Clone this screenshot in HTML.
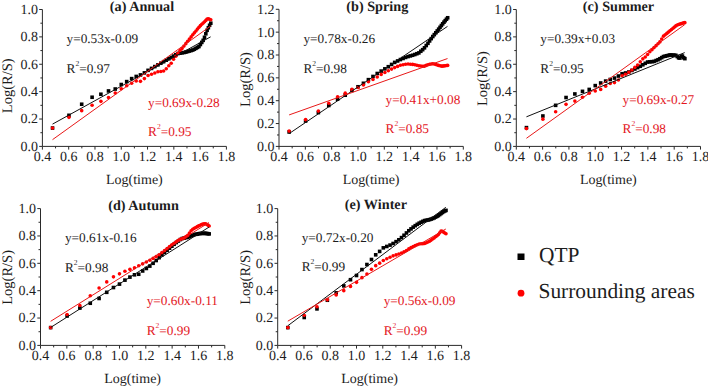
<!DOCTYPE html>
<html><head><meta charset="utf-8"><style>
html,body{margin:0;padding:0;background:#fff;}
svg{display:block;font-family:'Liberation Serif', serif;text-rendering:geometricPrecision;fill:#1c1c1c;}
</style></head><body>
<svg width="708" height="387" viewBox="0 0 708 387">
<rect width="708" height="387" fill="#fff"/>
<path d="M42.40 9.50V146.40H226.40" fill="none" stroke="#2a2a2a" stroke-width="1"/>
<line x1="39.20" y1="146.40" x2="42.40" y2="146.40" stroke="#2a2a2a" stroke-width="1"/>
<text x="37.90" y="150.80" text-anchor="end" font-size="14">0.0</text>
<line x1="40.40" y1="132.71" x2="42.40" y2="132.71" stroke="#2a2a2a" stroke-width="1"/>
<line x1="39.20" y1="119.02" x2="42.40" y2="119.02" stroke="#2a2a2a" stroke-width="1"/>
<text x="37.90" y="123.42" text-anchor="end" font-size="14">0.2</text>
<line x1="40.40" y1="105.33" x2="42.40" y2="105.33" stroke="#2a2a2a" stroke-width="1"/>
<line x1="39.20" y1="91.64" x2="42.40" y2="91.64" stroke="#2a2a2a" stroke-width="1"/>
<text x="37.90" y="96.04" text-anchor="end" font-size="14">0.4</text>
<line x1="40.40" y1="77.95" x2="42.40" y2="77.95" stroke="#2a2a2a" stroke-width="1"/>
<line x1="39.20" y1="64.26" x2="42.40" y2="64.26" stroke="#2a2a2a" stroke-width="1"/>
<text x="37.90" y="68.66" text-anchor="end" font-size="14">0.6</text>
<line x1="40.40" y1="50.57" x2="42.40" y2="50.57" stroke="#2a2a2a" stroke-width="1"/>
<line x1="39.20" y1="36.88" x2="42.40" y2="36.88" stroke="#2a2a2a" stroke-width="1"/>
<text x="37.90" y="41.28" text-anchor="end" font-size="14">0.8</text>
<line x1="40.40" y1="23.19" x2="42.40" y2="23.19" stroke="#2a2a2a" stroke-width="1"/>
<line x1="39.20" y1="9.50" x2="42.40" y2="9.50" stroke="#2a2a2a" stroke-width="1"/>
<text x="37.90" y="13.90" text-anchor="end" font-size="14">1.0</text>
<line x1="42.40" y1="146.40" x2="42.40" y2="149.60" stroke="#2a2a2a" stroke-width="1"/>
<text x="42.40" y="161.40" text-anchor="middle" font-size="14">0.4</text>
<line x1="55.54" y1="146.40" x2="55.54" y2="148.40" stroke="#2a2a2a" stroke-width="1"/>
<line x1="68.69" y1="146.40" x2="68.69" y2="149.60" stroke="#2a2a2a" stroke-width="1"/>
<text x="68.69" y="161.40" text-anchor="middle" font-size="14">0.6</text>
<line x1="81.83" y1="146.40" x2="81.83" y2="148.40" stroke="#2a2a2a" stroke-width="1"/>
<line x1="94.97" y1="146.40" x2="94.97" y2="149.60" stroke="#2a2a2a" stroke-width="1"/>
<text x="94.97" y="161.40" text-anchor="middle" font-size="14">0.8</text>
<line x1="108.11" y1="146.40" x2="108.11" y2="148.40" stroke="#2a2a2a" stroke-width="1"/>
<line x1="121.26" y1="146.40" x2="121.26" y2="149.60" stroke="#2a2a2a" stroke-width="1"/>
<text x="121.26" y="161.40" text-anchor="middle" font-size="14">1.0</text>
<line x1="134.40" y1="146.40" x2="134.40" y2="148.40" stroke="#2a2a2a" stroke-width="1"/>
<line x1="147.54" y1="146.40" x2="147.54" y2="149.60" stroke="#2a2a2a" stroke-width="1"/>
<text x="147.54" y="161.40" text-anchor="middle" font-size="14">1.2</text>
<line x1="160.69" y1="146.40" x2="160.69" y2="148.40" stroke="#2a2a2a" stroke-width="1"/>
<line x1="173.83" y1="146.40" x2="173.83" y2="149.60" stroke="#2a2a2a" stroke-width="1"/>
<text x="173.83" y="161.40" text-anchor="middle" font-size="14">1.4</text>
<line x1="186.97" y1="146.40" x2="186.97" y2="148.40" stroke="#2a2a2a" stroke-width="1"/>
<line x1="200.11" y1="146.40" x2="200.11" y2="149.60" stroke="#2a2a2a" stroke-width="1"/>
<text x="200.11" y="161.40" text-anchor="middle" font-size="14">1.6</text>
<line x1="213.26" y1="146.40" x2="213.26" y2="148.40" stroke="#2a2a2a" stroke-width="1"/>
<line x1="226.40" y1="146.40" x2="226.40" y2="149.60" stroke="#2a2a2a" stroke-width="1"/>
<text x="226.40" y="161.40" text-anchor="middle" font-size="14">1.8</text>
<text x="134.40" y="183.70" text-anchor="middle" font-size="14">Log(time)</text>
<text transform="translate(12.10,85.80) rotate(-90)" text-anchor="middle" font-size="14.5">Log(R/S)</text>
<text x="142.00" y="10.60" text-anchor="middle" font-size="14.2" font-weight="bold">(a) Annual</text>
<rect x="50.74" y="126.24" width="3.6" height="3.6" fill="#000"/>
<rect x="67.16" y="113.52" width="3.6" height="3.6" fill="#000"/>
<rect x="79.89" y="102.44" width="3.6" height="3.6" fill="#000"/>
<rect x="90.30" y="95.45" width="3.6" height="3.6" fill="#000"/>
<rect x="99.10" y="92.44" width="3.6" height="3.6" fill="#000"/>
<rect x="106.72" y="89.15" width="3.6" height="3.6" fill="#000"/>
<rect x="113.44" y="87.22" width="3.6" height="3.6" fill="#000"/>
<rect x="119.46" y="82.72" width="3.6" height="3.6" fill="#000"/>
<rect x="124.90" y="79.82" width="3.6" height="3.6" fill="#000"/>
<rect x="129.86" y="76.82" width="3.6" height="3.6" fill="#000"/>
<rect x="134.43" y="74.65" width="3.6" height="3.6" fill="#000"/>
<rect x="138.66" y="73.13" width="3.6" height="3.6" fill="#000"/>
<rect x="142.60" y="71.08" width="3.6" height="3.6" fill="#000"/>
<rect x="146.28" y="68.54" width="3.6" height="3.6" fill="#000"/>
<rect x="149.74" y="66.61" width="3.6" height="3.6" fill="#000"/>
<rect x="153.01" y="64.78" width="3.6" height="3.6" fill="#000"/>
<rect x="156.09" y="63.06" width="3.6" height="3.6" fill="#000"/>
<rect x="159.02" y="61.43" width="3.6" height="3.6" fill="#000"/>
<rect x="161.81" y="59.88" width="3.6" height="3.6" fill="#000"/>
<rect x="164.46" y="58.40" width="3.6" height="3.6" fill="#000"/>
<rect x="167.00" y="56.99" width="3.6" height="3.6" fill="#000"/>
<rect x="169.43" y="55.65" width="3.6" height="3.6" fill="#000"/>
<rect x="171.76" y="54.29" width="3.6" height="3.6" fill="#000"/>
<rect x="174.00" y="52.91" width="3.6" height="3.6" fill="#000"/>
<rect x="176.15" y="51.73" width="3.6" height="3.6" fill="#000"/>
<rect x="178.23" y="51.38" width="3.6" height="3.6" fill="#000"/>
<rect x="180.23" y="51.05" width="3.6" height="3.6" fill="#000"/>
<rect x="182.16" y="50.72" width="3.6" height="3.6" fill="#000"/>
<rect x="184.04" y="50.30" width="3.6" height="3.6" fill="#000"/>
<rect x="185.85" y="49.76" width="3.6" height="3.6" fill="#000"/>
<rect x="187.60" y="49.24" width="3.6" height="3.6" fill="#000"/>
<rect x="189.31" y="48.73" width="3.6" height="3.6" fill="#000"/>
<rect x="190.96" y="48.24" width="3.6" height="3.6" fill="#000"/>
<rect x="192.57" y="47.44" width="3.6" height="3.6" fill="#000"/>
<rect x="194.14" y="46.51" width="3.6" height="3.6" fill="#000"/>
<rect x="195.66" y="45.61" width="3.6" height="3.6" fill="#000"/>
<rect x="197.14" y="44.74" width="3.6" height="3.6" fill="#000"/>
<rect x="198.59" y="42.70" width="3.6" height="3.6" fill="#000"/>
<rect x="199.99" y="40.60" width="3.6" height="3.6" fill="#000"/>
<rect x="201.37" y="38.55" width="3.6" height="3.6" fill="#000"/>
<rect x="202.71" y="35.52" width="3.6" height="3.6" fill="#000"/>
<rect x="204.03" y="31.98" width="3.6" height="3.6" fill="#000"/>
<rect x="205.31" y="28.51" width="3.6" height="3.6" fill="#000"/>
<rect x="206.56" y="25.93" width="3.6" height="3.6" fill="#000"/>
<rect x="207.79" y="23.47" width="3.6" height="3.6" fill="#000"/>
<rect x="208.99" y="21.39" width="3.6" height="3.6" fill="#000"/>
<circle cx="52.54" cy="128.05" r="1.8" fill="#f00"/>
<circle cx="68.96" cy="117.37" r="1.8" fill="#f00"/>
<circle cx="81.69" cy="110.67" r="1.8" fill="#f00"/>
<circle cx="92.10" cy="105.32" r="1.8" fill="#f00"/>
<circle cx="100.90" cy="101.35" r="1.8" fill="#f00"/>
<circle cx="108.52" cy="97.52" r="1.8" fill="#f00"/>
<circle cx="115.24" cy="92.99" r="1.8" fill="#f00"/>
<circle cx="121.26" cy="88.77" r="1.8" fill="#f00"/>
<circle cx="126.70" cy="85.73" r="1.8" fill="#f00"/>
<circle cx="131.66" cy="83.28" r="1.8" fill="#f00"/>
<circle cx="136.23" cy="80.97" r="1.8" fill="#f00"/>
<circle cx="140.46" cy="81.36" r="1.8" fill="#f00"/>
<circle cx="144.40" cy="78.62" r="1.8" fill="#f00"/>
<circle cx="148.08" cy="75.43" r="1.8" fill="#f00"/>
<circle cx="151.54" cy="74.23" r="1.8" fill="#f00"/>
<circle cx="154.81" cy="72.97" r="1.8" fill="#f00"/>
<circle cx="157.89" cy="71.81" r="1.8" fill="#f00"/>
<circle cx="160.82" cy="71.44" r="1.8" fill="#f00"/>
<circle cx="163.61" cy="70.99" r="1.8" fill="#f00"/>
<circle cx="166.26" cy="68.77" r="1.8" fill="#f00"/>
<circle cx="168.80" cy="65.81" r="1.8" fill="#f00"/>
<circle cx="171.23" cy="63.25" r="1.8" fill="#f00"/>
<circle cx="173.56" cy="59.30" r="1.8" fill="#f00"/>
<circle cx="175.80" cy="56.23" r="1.8" fill="#f00"/>
<circle cx="177.95" cy="53.26" r="1.8" fill="#f00"/>
<circle cx="180.03" cy="50.57" r="1.8" fill="#f00"/>
<circle cx="182.03" cy="48.59" r="1.8" fill="#f00"/>
<circle cx="183.96" cy="46.12" r="1.8" fill="#f00"/>
<circle cx="185.84" cy="43.67" r="1.8" fill="#f00"/>
<circle cx="187.65" cy="41.31" r="1.8" fill="#f00"/>
<circle cx="189.40" cy="39.08" r="1.8" fill="#f00"/>
<circle cx="191.11" cy="36.91" r="1.8" fill="#f00"/>
<circle cx="192.76" cy="34.80" r="1.8" fill="#f00"/>
<circle cx="194.37" cy="32.83" r="1.8" fill="#f00"/>
<circle cx="195.94" cy="30.95" r="1.8" fill="#f00"/>
<circle cx="197.46" cy="29.12" r="1.8" fill="#f00"/>
<circle cx="198.94" cy="27.34" r="1.8" fill="#f00"/>
<circle cx="200.39" cy="25.67" r="1.8" fill="#f00"/>
<circle cx="201.79" cy="24.32" r="1.8" fill="#f00"/>
<circle cx="203.17" cy="23.01" r="1.8" fill="#f00"/>
<circle cx="204.51" cy="21.73" r="1.8" fill="#f00"/>
<circle cx="205.83" cy="20.39" r="1.8" fill="#f00"/>
<circle cx="207.11" cy="19.05" r="1.8" fill="#f00"/>
<circle cx="208.36" cy="18.69" r="1.8" fill="#f00"/>
<circle cx="209.59" cy="19.28" r="1.8" fill="#f00"/>
<circle cx="210.79" cy="19.77" r="1.8" fill="#f00"/>
<line x1="52.52" y1="124.11" x2="210.63" y2="36.83" stroke="#111" stroke-width="1"/>
<line x1="52.52" y1="139.67" x2="210.63" y2="26.04" stroke="#e81818" stroke-width="1"/>
<text x="66.50" y="42.80" font-size="13.3">y=0.53x-0.09</text>
<text x="66.50" y="72.80" font-size="13.3">R<tspan font-size="7.6" dy="-7">2</tspan><tspan dy="7">=0.97</tspan></text>
<text x="148.00" y="106.50" font-size="13.3" fill="#e3161e">y=0.69x-0.28</text>
<text x="148.00" y="136.00" font-size="13.3" fill="#e3161e">R<tspan font-size="7.6" dy="-7">2</tspan><tspan dy="7">=0.95</tspan></text>
<path d="M279.00 9.30V146.40H463.30" fill="none" stroke="#2a2a2a" stroke-width="1"/>
<line x1="275.80" y1="146.40" x2="279.00" y2="146.40" stroke="#2a2a2a" stroke-width="1"/>
<text x="274.50" y="150.80" text-anchor="end" font-size="14">0.0</text>
<line x1="277.00" y1="134.97" x2="279.00" y2="134.97" stroke="#2a2a2a" stroke-width="1"/>
<line x1="275.80" y1="123.55" x2="279.00" y2="123.55" stroke="#2a2a2a" stroke-width="1"/>
<text x="274.50" y="127.95" text-anchor="end" font-size="14">0.2</text>
<line x1="277.00" y1="112.12" x2="279.00" y2="112.12" stroke="#2a2a2a" stroke-width="1"/>
<line x1="275.80" y1="100.70" x2="279.00" y2="100.70" stroke="#2a2a2a" stroke-width="1"/>
<text x="274.50" y="105.10" text-anchor="end" font-size="14">0.4</text>
<line x1="277.00" y1="89.28" x2="279.00" y2="89.28" stroke="#2a2a2a" stroke-width="1"/>
<line x1="275.80" y1="77.85" x2="279.00" y2="77.85" stroke="#2a2a2a" stroke-width="1"/>
<text x="274.50" y="82.25" text-anchor="end" font-size="14">0.6</text>
<line x1="277.00" y1="66.43" x2="279.00" y2="66.43" stroke="#2a2a2a" stroke-width="1"/>
<line x1="275.80" y1="55.00" x2="279.00" y2="55.00" stroke="#2a2a2a" stroke-width="1"/>
<text x="274.50" y="59.40" text-anchor="end" font-size="14">0.8</text>
<line x1="277.00" y1="43.58" x2="279.00" y2="43.58" stroke="#2a2a2a" stroke-width="1"/>
<line x1="275.80" y1="32.15" x2="279.00" y2="32.15" stroke="#2a2a2a" stroke-width="1"/>
<text x="274.50" y="36.55" text-anchor="end" font-size="14">1.0</text>
<line x1="277.00" y1="20.72" x2="279.00" y2="20.72" stroke="#2a2a2a" stroke-width="1"/>
<line x1="275.80" y1="9.30" x2="279.00" y2="9.30" stroke="#2a2a2a" stroke-width="1"/>
<text x="274.50" y="13.70" text-anchor="end" font-size="14">1.2</text>
<line x1="279.00" y1="146.40" x2="279.00" y2="149.60" stroke="#2a2a2a" stroke-width="1"/>
<text x="279.00" y="161.40" text-anchor="middle" font-size="14">0.4</text>
<line x1="292.16" y1="146.40" x2="292.16" y2="148.40" stroke="#2a2a2a" stroke-width="1"/>
<line x1="305.33" y1="146.40" x2="305.33" y2="149.60" stroke="#2a2a2a" stroke-width="1"/>
<text x="305.33" y="161.40" text-anchor="middle" font-size="14">0.6</text>
<line x1="318.49" y1="146.40" x2="318.49" y2="148.40" stroke="#2a2a2a" stroke-width="1"/>
<line x1="331.66" y1="146.40" x2="331.66" y2="149.60" stroke="#2a2a2a" stroke-width="1"/>
<text x="331.66" y="161.40" text-anchor="middle" font-size="14">0.8</text>
<line x1="344.82" y1="146.40" x2="344.82" y2="148.40" stroke="#2a2a2a" stroke-width="1"/>
<line x1="357.99" y1="146.40" x2="357.99" y2="149.60" stroke="#2a2a2a" stroke-width="1"/>
<text x="357.99" y="161.40" text-anchor="middle" font-size="14">1.0</text>
<line x1="371.15" y1="146.40" x2="371.15" y2="148.40" stroke="#2a2a2a" stroke-width="1"/>
<line x1="384.31" y1="146.40" x2="384.31" y2="149.60" stroke="#2a2a2a" stroke-width="1"/>
<text x="384.31" y="161.40" text-anchor="middle" font-size="14">1.2</text>
<line x1="397.48" y1="146.40" x2="397.48" y2="148.40" stroke="#2a2a2a" stroke-width="1"/>
<line x1="410.64" y1="146.40" x2="410.64" y2="149.60" stroke="#2a2a2a" stroke-width="1"/>
<text x="410.64" y="161.40" text-anchor="middle" font-size="14">1.4</text>
<line x1="423.81" y1="146.40" x2="423.81" y2="148.40" stroke="#2a2a2a" stroke-width="1"/>
<line x1="436.97" y1="146.40" x2="436.97" y2="149.60" stroke="#2a2a2a" stroke-width="1"/>
<text x="436.97" y="161.40" text-anchor="middle" font-size="14">1.6</text>
<line x1="450.14" y1="146.40" x2="450.14" y2="148.40" stroke="#2a2a2a" stroke-width="1"/>
<line x1="463.30" y1="146.40" x2="463.30" y2="149.60" stroke="#2a2a2a" stroke-width="1"/>
<text x="463.30" y="161.40" text-anchor="middle" font-size="14">1.8</text>
<text x="371.15" y="183.70" text-anchor="middle" font-size="14">Log(time)</text>
<text transform="translate(250.00,79.50) rotate(-90)" text-anchor="middle" font-size="14.5">Log(R/S)</text>
<text x="377.30" y="10.90" text-anchor="middle" font-size="14.2" font-weight="bold">(b) Spring</text>
<rect x="287.35" y="130.19" width="3.6" height="3.6" fill="#000"/>
<rect x="303.80" y="119.23" width="3.6" height="3.6" fill="#000"/>
<rect x="316.56" y="110.78" width="3.6" height="3.6" fill="#000"/>
<rect x="326.98" y="103.68" width="3.6" height="3.6" fill="#000"/>
<rect x="335.79" y="97.41" width="3.6" height="3.6" fill="#000"/>
<rect x="343.43" y="93.41" width="3.6" height="3.6" fill="#000"/>
<rect x="350.16" y="88.60" width="3.6" height="3.6" fill="#000"/>
<rect x="356.19" y="84.96" width="3.6" height="3.6" fill="#000"/>
<rect x="361.63" y="81.50" width="3.6" height="3.6" fill="#000"/>
<rect x="366.61" y="77.86" width="3.6" height="3.6" fill="#000"/>
<rect x="371.19" y="74.68" width="3.6" height="3.6" fill="#000"/>
<rect x="375.42" y="71.70" width="3.6" height="3.6" fill="#000"/>
<rect x="379.37" y="69.30" width="3.6" height="3.6" fill="#000"/>
<rect x="383.06" y="67.06" width="3.6" height="3.6" fill="#000"/>
<rect x="386.52" y="64.91" width="3.6" height="3.6" fill="#000"/>
<rect x="389.79" y="62.65" width="3.6" height="3.6" fill="#000"/>
<rect x="392.88" y="60.61" width="3.6" height="3.6" fill="#000"/>
<rect x="395.81" y="59.16" width="3.6" height="3.6" fill="#000"/>
<rect x="398.60" y="57.77" width="3.6" height="3.6" fill="#000"/>
<rect x="401.26" y="56.67" width="3.6" height="3.6" fill="#000"/>
<rect x="403.80" y="55.63" width="3.6" height="3.6" fill="#000"/>
<rect x="406.24" y="54.76" width="3.6" height="3.6" fill="#000"/>
<rect x="408.57" y="54.10" width="3.6" height="3.6" fill="#000"/>
<rect x="410.81" y="53.46" width="3.6" height="3.6" fill="#000"/>
<rect x="412.97" y="52.72" width="3.6" height="3.6" fill="#000"/>
<rect x="415.05" y="51.91" width="3.6" height="3.6" fill="#000"/>
<rect x="417.06" y="51.10" width="3.6" height="3.6" fill="#000"/>
<rect x="419.00" y="49.46" width="3.6" height="3.6" fill="#000"/>
<rect x="420.87" y="47.88" width="3.6" height="3.6" fill="#000"/>
<rect x="422.69" y="46.03" width="3.6" height="3.6" fill="#000"/>
<rect x="424.44" y="43.74" width="3.6" height="3.6" fill="#000"/>
<rect x="426.15" y="41.50" width="3.6" height="3.6" fill="#000"/>
<rect x="427.81" y="39.13" width="3.6" height="3.6" fill="#000"/>
<rect x="429.42" y="36.83" width="3.6" height="3.6" fill="#000"/>
<rect x="430.99" y="34.75" width="3.6" height="3.6" fill="#000"/>
<rect x="432.51" y="32.83" width="3.6" height="3.6" fill="#000"/>
<rect x="434.00" y="30.96" width="3.6" height="3.6" fill="#000"/>
<rect x="435.44" y="29.14" width="3.6" height="3.6" fill="#000"/>
<rect x="436.85" y="27.36" width="3.6" height="3.6" fill="#000"/>
<rect x="438.23" y="25.53" width="3.6" height="3.6" fill="#000"/>
<rect x="439.58" y="23.75" width="3.6" height="3.6" fill="#000"/>
<rect x="440.89" y="22.01" width="3.6" height="3.6" fill="#000"/>
<rect x="442.18" y="20.36" width="3.6" height="3.6" fill="#000"/>
<rect x="443.43" y="18.86" width="3.6" height="3.6" fill="#000"/>
<rect x="444.66" y="17.40" width="3.6" height="3.6" fill="#000"/>
<rect x="445.87" y="15.96" width="3.6" height="3.6" fill="#000"/>
<circle cx="289.15" cy="131.08" r="1.8" fill="#f00"/>
<circle cx="305.60" cy="119.66" r="1.8" fill="#f00"/>
<circle cx="318.36" cy="111.10" r="1.8" fill="#f00"/>
<circle cx="328.78" cy="103.31" r="1.8" fill="#f00"/>
<circle cx="337.59" cy="96.81" r="1.8" fill="#f00"/>
<circle cx="345.23" cy="93.15" r="1.8" fill="#f00"/>
<circle cx="351.96" cy="89.38" r="1.8" fill="#f00"/>
<circle cx="357.99" cy="87.45" r="1.8" fill="#f00"/>
<circle cx="363.43" cy="84.90" r="1.8" fill="#f00"/>
<circle cx="368.41" cy="81.72" r="1.8" fill="#f00"/>
<circle cx="372.99" cy="79.45" r="1.8" fill="#f00"/>
<circle cx="377.22" cy="76.93" r="1.8" fill="#f00"/>
<circle cx="381.17" cy="74.42" r="1.8" fill="#f00"/>
<circle cx="384.86" cy="72.49" r="1.8" fill="#f00"/>
<circle cx="388.32" cy="70.70" r="1.8" fill="#f00"/>
<circle cx="391.59" cy="69.08" r="1.8" fill="#f00"/>
<circle cx="394.68" cy="67.59" r="1.8" fill="#f00"/>
<circle cx="397.61" cy="66.40" r="1.8" fill="#f00"/>
<circle cx="400.40" cy="65.26" r="1.8" fill="#f00"/>
<circle cx="403.06" cy="64.70" r="1.8" fill="#f00"/>
<circle cx="405.60" cy="64.20" r="1.8" fill="#f00"/>
<circle cx="408.04" cy="64.00" r="1.8" fill="#f00"/>
<circle cx="410.37" cy="64.20" r="1.8" fill="#f00"/>
<circle cx="412.61" cy="64.40" r="1.8" fill="#f00"/>
<circle cx="414.77" cy="64.78" r="1.8" fill="#f00"/>
<circle cx="416.85" cy="65.27" r="1.8" fill="#f00"/>
<circle cx="418.86" cy="65.75" r="1.8" fill="#f00"/>
<circle cx="420.80" cy="66.01" r="1.8" fill="#f00"/>
<circle cx="422.67" cy="66.27" r="1.8" fill="#f00"/>
<circle cx="424.49" cy="66.14" r="1.8" fill="#f00"/>
<circle cx="426.24" cy="65.40" r="1.8" fill="#f00"/>
<circle cx="427.95" cy="64.68" r="1.8" fill="#f00"/>
<circle cx="429.61" cy="64.30" r="1.8" fill="#f00"/>
<circle cx="431.22" cy="64.05" r="1.8" fill="#f00"/>
<circle cx="432.79" cy="63.80" r="1.8" fill="#f00"/>
<circle cx="434.31" cy="63.94" r="1.8" fill="#f00"/>
<circle cx="435.80" cy="64.45" r="1.8" fill="#f00"/>
<circle cx="437.24" cy="64.95" r="1.8" fill="#f00"/>
<circle cx="438.65" cy="65.42" r="1.8" fill="#f00"/>
<circle cx="440.03" cy="65.76" r="1.8" fill="#f00"/>
<circle cx="441.38" cy="66.08" r="1.8" fill="#f00"/>
<circle cx="442.69" cy="66.08" r="1.8" fill="#f00"/>
<circle cx="443.98" cy="65.91" r="1.8" fill="#f00"/>
<circle cx="445.23" cy="65.74" r="1.8" fill="#f00"/>
<circle cx="446.46" cy="65.57" r="1.8" fill="#f00"/>
<circle cx="447.67" cy="65.41" r="1.8" fill="#f00"/>
<line x1="289.14" y1="133.60" x2="447.50" y2="26.39" stroke="#111" stroke-width="1"/>
<line x1="289.14" y1="114.92" x2="447.50" y2="58.56" stroke="#e81818" stroke-width="1"/>
<text x="303.40" y="43.40" font-size="13.3">y=0.78x-0.26</text>
<text x="303.40" y="72.80" font-size="13.3">R<tspan font-size="7.6" dy="-7">2</tspan><tspan dy="7">=0.98</tspan></text>
<text x="385.50" y="103.70" font-size="13.3" fill="#e3161e">y=0.41x+0.08</text>
<text x="385.50" y="133.20" font-size="13.3" fill="#e3161e">R<tspan font-size="7.6" dy="-7">2</tspan><tspan dy="7">=0.85</tspan></text>
<path d="M516.30 9.50V146.40H700.50" fill="none" stroke="#2a2a2a" stroke-width="1"/>
<line x1="513.10" y1="146.40" x2="516.30" y2="146.40" stroke="#2a2a2a" stroke-width="1"/>
<text x="511.80" y="150.80" text-anchor="end" font-size="14">0.0</text>
<line x1="514.30" y1="132.71" x2="516.30" y2="132.71" stroke="#2a2a2a" stroke-width="1"/>
<line x1="513.10" y1="119.02" x2="516.30" y2="119.02" stroke="#2a2a2a" stroke-width="1"/>
<text x="511.80" y="123.42" text-anchor="end" font-size="14">0.2</text>
<line x1="514.30" y1="105.33" x2="516.30" y2="105.33" stroke="#2a2a2a" stroke-width="1"/>
<line x1="513.10" y1="91.64" x2="516.30" y2="91.64" stroke="#2a2a2a" stroke-width="1"/>
<text x="511.80" y="96.04" text-anchor="end" font-size="14">0.4</text>
<line x1="514.30" y1="77.95" x2="516.30" y2="77.95" stroke="#2a2a2a" stroke-width="1"/>
<line x1="513.10" y1="64.26" x2="516.30" y2="64.26" stroke="#2a2a2a" stroke-width="1"/>
<text x="511.80" y="68.66" text-anchor="end" font-size="14">0.6</text>
<line x1="514.30" y1="50.57" x2="516.30" y2="50.57" stroke="#2a2a2a" stroke-width="1"/>
<line x1="513.10" y1="36.88" x2="516.30" y2="36.88" stroke="#2a2a2a" stroke-width="1"/>
<text x="511.80" y="41.28" text-anchor="end" font-size="14">0.8</text>
<line x1="514.30" y1="23.19" x2="516.30" y2="23.19" stroke="#2a2a2a" stroke-width="1"/>
<line x1="513.10" y1="9.50" x2="516.30" y2="9.50" stroke="#2a2a2a" stroke-width="1"/>
<text x="511.80" y="13.90" text-anchor="end" font-size="14">1.0</text>
<line x1="516.30" y1="146.40" x2="516.30" y2="149.60" stroke="#2a2a2a" stroke-width="1"/>
<text x="516.30" y="161.40" text-anchor="middle" font-size="14">0.4</text>
<line x1="529.46" y1="146.40" x2="529.46" y2="148.40" stroke="#2a2a2a" stroke-width="1"/>
<line x1="542.61" y1="146.40" x2="542.61" y2="149.60" stroke="#2a2a2a" stroke-width="1"/>
<text x="542.61" y="161.40" text-anchor="middle" font-size="14">0.6</text>
<line x1="555.77" y1="146.40" x2="555.77" y2="148.40" stroke="#2a2a2a" stroke-width="1"/>
<line x1="568.93" y1="146.40" x2="568.93" y2="149.60" stroke="#2a2a2a" stroke-width="1"/>
<text x="568.93" y="161.40" text-anchor="middle" font-size="14">0.8</text>
<line x1="582.09" y1="146.40" x2="582.09" y2="148.40" stroke="#2a2a2a" stroke-width="1"/>
<line x1="595.24" y1="146.40" x2="595.24" y2="149.60" stroke="#2a2a2a" stroke-width="1"/>
<text x="595.24" y="161.40" text-anchor="middle" font-size="14">1.0</text>
<line x1="608.40" y1="146.40" x2="608.40" y2="148.40" stroke="#2a2a2a" stroke-width="1"/>
<line x1="621.56" y1="146.40" x2="621.56" y2="149.60" stroke="#2a2a2a" stroke-width="1"/>
<text x="621.56" y="161.40" text-anchor="middle" font-size="14">1.2</text>
<line x1="634.71" y1="146.40" x2="634.71" y2="148.40" stroke="#2a2a2a" stroke-width="1"/>
<line x1="647.87" y1="146.40" x2="647.87" y2="149.60" stroke="#2a2a2a" stroke-width="1"/>
<text x="647.87" y="161.40" text-anchor="middle" font-size="14">1.4</text>
<line x1="661.03" y1="146.40" x2="661.03" y2="148.40" stroke="#2a2a2a" stroke-width="1"/>
<line x1="674.19" y1="146.40" x2="674.19" y2="149.60" stroke="#2a2a2a" stroke-width="1"/>
<text x="674.19" y="161.40" text-anchor="middle" font-size="14">1.6</text>
<line x1="687.34" y1="146.40" x2="687.34" y2="148.40" stroke="#2a2a2a" stroke-width="1"/>
<line x1="700.50" y1="146.40" x2="700.50" y2="149.60" stroke="#2a2a2a" stroke-width="1"/>
<text x="700.50" y="161.40" text-anchor="middle" font-size="14">1.8</text>
<text x="608.40" y="183.70" text-anchor="middle" font-size="14">Log(time)</text>
<text transform="translate(487.40,78.60) rotate(-90)" text-anchor="middle" font-size="14.5">Log(R/S)</text>
<text x="618.50" y="10.80" text-anchor="middle" font-size="14.2" font-weight="bold">(c) Summer</text>
<rect x="524.65" y="125.83" width="3.6" height="3.6" fill="#000"/>
<rect x="541.09" y="114.20" width="3.6" height="3.6" fill="#000"/>
<rect x="553.84" y="103.53" width="3.6" height="3.6" fill="#000"/>
<rect x="564.25" y="95.72" width="3.6" height="3.6" fill="#000"/>
<rect x="573.06" y="92.16" width="3.6" height="3.6" fill="#000"/>
<rect x="580.69" y="89.56" width="3.6" height="3.6" fill="#000"/>
<rect x="587.42" y="87.63" width="3.6" height="3.6" fill="#000"/>
<rect x="593.44" y="83.82" width="3.6" height="3.6" fill="#000"/>
<rect x="598.89" y="81.20" width="3.6" height="3.6" fill="#000"/>
<rect x="603.86" y="79.29" width="3.6" height="3.6" fill="#000"/>
<rect x="608.43" y="77.66" width="3.6" height="3.6" fill="#000"/>
<rect x="612.67" y="76.28" width="3.6" height="3.6" fill="#000"/>
<rect x="616.61" y="74.23" width="3.6" height="3.6" fill="#000"/>
<rect x="620.30" y="71.93" width="3.6" height="3.6" fill="#000"/>
<rect x="623.76" y="71.17" width="3.6" height="3.6" fill="#000"/>
<rect x="627.03" y="70.20" width="3.6" height="3.6" fill="#000"/>
<rect x="630.12" y="68.65" width="3.6" height="3.6" fill="#000"/>
<rect x="633.05" y="67.19" width="3.6" height="3.6" fill="#000"/>
<rect x="635.84" y="65.80" width="3.6" height="3.6" fill="#000"/>
<rect x="638.50" y="64.47" width="3.6" height="3.6" fill="#000"/>
<rect x="641.04" y="62.99" width="3.6" height="3.6" fill="#000"/>
<rect x="643.47" y="61.52" width="3.6" height="3.6" fill="#000"/>
<rect x="645.80" y="60.25" width="3.6" height="3.6" fill="#000"/>
<rect x="648.04" y="60.06" width="3.6" height="3.6" fill="#000"/>
<rect x="650.20" y="59.87" width="3.6" height="3.6" fill="#000"/>
<rect x="652.28" y="59.60" width="3.6" height="3.6" fill="#000"/>
<rect x="654.28" y="58.74" width="3.6" height="3.6" fill="#000"/>
<rect x="656.22" y="57.92" width="3.6" height="3.6" fill="#000"/>
<rect x="658.09" y="56.94" width="3.6" height="3.6" fill="#000"/>
<rect x="659.91" y="55.83" width="3.6" height="3.6" fill="#000"/>
<rect x="661.66" y="54.78" width="3.6" height="3.6" fill="#000"/>
<rect x="663.37" y="54.36" width="3.6" height="3.6" fill="#000"/>
<rect x="665.03" y="53.95" width="3.6" height="3.6" fill="#000"/>
<rect x="666.64" y="53.56" width="3.6" height="3.6" fill="#000"/>
<rect x="668.20" y="53.18" width="3.6" height="3.6" fill="#000"/>
<rect x="669.73" y="53.25" width="3.6" height="3.6" fill="#000"/>
<rect x="671.21" y="53.35" width="3.6" height="3.6" fill="#000"/>
<rect x="672.66" y="53.45" width="3.6" height="3.6" fill="#000"/>
<rect x="674.07" y="53.55" width="3.6" height="3.6" fill="#000"/>
<rect x="675.44" y="54.73" width="3.6" height="3.6" fill="#000"/>
<rect x="676.79" y="56.02" width="3.6" height="3.6" fill="#000"/>
<rect x="678.10" y="56.25" width="3.6" height="3.6" fill="#000"/>
<rect x="679.39" y="54.56" width="3.6" height="3.6" fill="#000"/>
<rect x="680.64" y="54.25" width="3.6" height="3.6" fill="#000"/>
<rect x="681.87" y="55.95" width="3.6" height="3.6" fill="#000"/>
<rect x="683.07" y="56.85" width="3.6" height="3.6" fill="#000"/>
<circle cx="526.45" cy="128.59" r="1.8" fill="#f00"/>
<circle cx="542.89" cy="119.15" r="1.8" fill="#f00"/>
<circle cx="555.64" cy="111.77" r="1.8" fill="#f00"/>
<circle cx="566.05" cy="104.36" r="1.8" fill="#f00"/>
<circle cx="574.86" cy="101.08" r="1.8" fill="#f00"/>
<circle cx="582.49" cy="97.25" r="1.8" fill="#f00"/>
<circle cx="589.22" cy="93.27" r="1.8" fill="#f00"/>
<circle cx="595.24" cy="90.96" r="1.8" fill="#f00"/>
<circle cx="600.69" cy="89.42" r="1.8" fill="#f00"/>
<circle cx="605.66" cy="86.15" r="1.8" fill="#f00"/>
<circle cx="610.23" cy="83.43" r="1.8" fill="#f00"/>
<circle cx="614.47" cy="82.59" r="1.8" fill="#f00"/>
<circle cx="618.41" cy="79.99" r="1.8" fill="#f00"/>
<circle cx="622.10" cy="75.79" r="1.8" fill="#f00"/>
<circle cx="625.56" cy="74.20" r="1.8" fill="#f00"/>
<circle cx="628.83" cy="72.26" r="1.8" fill="#f00"/>
<circle cx="631.92" cy="70.06" r="1.8" fill="#f00"/>
<circle cx="634.85" cy="67.39" r="1.8" fill="#f00"/>
<circle cx="637.64" cy="65.06" r="1.8" fill="#f00"/>
<circle cx="640.30" cy="61.84" r="1.8" fill="#f00"/>
<circle cx="642.84" cy="58.87" r="1.8" fill="#f00"/>
<circle cx="645.27" cy="56.93" r="1.8" fill="#f00"/>
<circle cx="647.60" cy="54.46" r="1.8" fill="#f00"/>
<circle cx="649.84" cy="51.81" r="1.8" fill="#f00"/>
<circle cx="652.00" cy="49.67" r="1.8" fill="#f00"/>
<circle cx="654.08" cy="47.62" r="1.8" fill="#f00"/>
<circle cx="656.08" cy="45.64" r="1.8" fill="#f00"/>
<circle cx="658.02" cy="43.73" r="1.8" fill="#f00"/>
<circle cx="659.89" cy="41.88" r="1.8" fill="#f00"/>
<circle cx="661.71" cy="39.05" r="1.8" fill="#f00"/>
<circle cx="663.46" cy="36.14" r="1.8" fill="#f00"/>
<circle cx="665.17" cy="34.75" r="1.8" fill="#f00"/>
<circle cx="666.83" cy="33.40" r="1.8" fill="#f00"/>
<circle cx="668.44" cy="32.08" r="1.8" fill="#f00"/>
<circle cx="670.00" cy="30.81" r="1.8" fill="#f00"/>
<circle cx="671.53" cy="29.53" r="1.8" fill="#f00"/>
<circle cx="673.01" cy="28.29" r="1.8" fill="#f00"/>
<circle cx="674.46" cy="27.08" r="1.8" fill="#f00"/>
<circle cx="675.87" cy="25.90" r="1.8" fill="#f00"/>
<circle cx="677.24" cy="24.97" r="1.8" fill="#f00"/>
<circle cx="678.59" cy="24.52" r="1.8" fill="#f00"/>
<circle cx="679.90" cy="24.09" r="1.8" fill="#f00"/>
<circle cx="681.19" cy="23.67" r="1.8" fill="#f00"/>
<circle cx="682.44" cy="23.26" r="1.8" fill="#f00"/>
<circle cx="683.67" cy="22.85" r="1.8" fill="#f00"/>
<circle cx="684.87" cy="22.64" r="1.8" fill="#f00"/>
<line x1="526.43" y1="116.83" x2="684.71" y2="52.60" stroke="#111" stroke-width="1"/>
<line x1="526.43" y1="138.31" x2="684.71" y2="24.67" stroke="#e81818" stroke-width="1"/>
<text x="540.30" y="43.40" font-size="13.3">y=0.39x+0.03</text>
<text x="540.30" y="72.80" font-size="13.3">R<tspan font-size="7.6" dy="-7">2</tspan><tspan dy="7">=0.95</tspan></text>
<text x="622.50" y="103.70" font-size="13.3" fill="#e3161e">y=0.69x-0.27</text>
<text x="622.50" y="133.20" font-size="13.3" fill="#e3161e">R<tspan font-size="7.6" dy="-7">2</tspan><tspan dy="7">=0.98</tspan></text>
<path d="M40.50 208.60V345.40H224.80" fill="none" stroke="#2a2a2a" stroke-width="1"/>
<line x1="37.30" y1="345.40" x2="40.50" y2="345.40" stroke="#2a2a2a" stroke-width="1"/>
<text x="36.00" y="349.80" text-anchor="end" font-size="14">0.0</text>
<line x1="38.50" y1="331.72" x2="40.50" y2="331.72" stroke="#2a2a2a" stroke-width="1"/>
<line x1="37.30" y1="318.04" x2="40.50" y2="318.04" stroke="#2a2a2a" stroke-width="1"/>
<text x="36.00" y="322.44" text-anchor="end" font-size="14">0.2</text>
<line x1="38.50" y1="304.36" x2="40.50" y2="304.36" stroke="#2a2a2a" stroke-width="1"/>
<line x1="37.30" y1="290.68" x2="40.50" y2="290.68" stroke="#2a2a2a" stroke-width="1"/>
<text x="36.00" y="295.08" text-anchor="end" font-size="14">0.4</text>
<line x1="38.50" y1="277.00" x2="40.50" y2="277.00" stroke="#2a2a2a" stroke-width="1"/>
<line x1="37.30" y1="263.32" x2="40.50" y2="263.32" stroke="#2a2a2a" stroke-width="1"/>
<text x="36.00" y="267.72" text-anchor="end" font-size="14">0.6</text>
<line x1="38.50" y1="249.64" x2="40.50" y2="249.64" stroke="#2a2a2a" stroke-width="1"/>
<line x1="37.30" y1="235.96" x2="40.50" y2="235.96" stroke="#2a2a2a" stroke-width="1"/>
<text x="36.00" y="240.36" text-anchor="end" font-size="14">0.8</text>
<line x1="38.50" y1="222.28" x2="40.50" y2="222.28" stroke="#2a2a2a" stroke-width="1"/>
<line x1="37.30" y1="208.60" x2="40.50" y2="208.60" stroke="#2a2a2a" stroke-width="1"/>
<text x="36.00" y="213.00" text-anchor="end" font-size="14">1.0</text>
<line x1="40.50" y1="345.40" x2="40.50" y2="348.60" stroke="#2a2a2a" stroke-width="1"/>
<text x="40.50" y="360.40" text-anchor="middle" font-size="14">0.4</text>
<line x1="53.66" y1="345.40" x2="53.66" y2="347.40" stroke="#2a2a2a" stroke-width="1"/>
<line x1="66.83" y1="345.40" x2="66.83" y2="348.60" stroke="#2a2a2a" stroke-width="1"/>
<text x="66.83" y="360.40" text-anchor="middle" font-size="14">0.6</text>
<line x1="79.99" y1="345.40" x2="79.99" y2="347.40" stroke="#2a2a2a" stroke-width="1"/>
<line x1="93.16" y1="345.40" x2="93.16" y2="348.60" stroke="#2a2a2a" stroke-width="1"/>
<text x="93.16" y="360.40" text-anchor="middle" font-size="14">0.8</text>
<line x1="106.32" y1="345.40" x2="106.32" y2="347.40" stroke="#2a2a2a" stroke-width="1"/>
<line x1="119.49" y1="345.40" x2="119.49" y2="348.60" stroke="#2a2a2a" stroke-width="1"/>
<text x="119.49" y="360.40" text-anchor="middle" font-size="14">1.0</text>
<line x1="132.65" y1="345.40" x2="132.65" y2="347.40" stroke="#2a2a2a" stroke-width="1"/>
<line x1="145.81" y1="345.40" x2="145.81" y2="348.60" stroke="#2a2a2a" stroke-width="1"/>
<text x="145.81" y="360.40" text-anchor="middle" font-size="14">1.2</text>
<line x1="158.98" y1="345.40" x2="158.98" y2="347.40" stroke="#2a2a2a" stroke-width="1"/>
<line x1="172.14" y1="345.40" x2="172.14" y2="348.60" stroke="#2a2a2a" stroke-width="1"/>
<text x="172.14" y="360.40" text-anchor="middle" font-size="14">1.4</text>
<line x1="185.31" y1="345.40" x2="185.31" y2="347.40" stroke="#2a2a2a" stroke-width="1"/>
<line x1="198.47" y1="345.40" x2="198.47" y2="348.60" stroke="#2a2a2a" stroke-width="1"/>
<text x="198.47" y="360.40" text-anchor="middle" font-size="14">1.6</text>
<line x1="211.64" y1="345.40" x2="211.64" y2="347.40" stroke="#2a2a2a" stroke-width="1"/>
<line x1="224.80" y1="345.40" x2="224.80" y2="348.60" stroke="#2a2a2a" stroke-width="1"/>
<text x="224.80" y="360.40" text-anchor="middle" font-size="14">1.8</text>
<text x="132.65" y="382.70" text-anchor="middle" font-size="14">Log(time)</text>
<text transform="translate(11.60,277.40) rotate(-90)" text-anchor="middle" font-size="14.5">Log(R/S)</text>
<text x="143.50" y="209.80" text-anchor="middle" font-size="14.2" font-weight="bold">(d) Autumn</text>
<rect x="48.85" y="325.80" width="3.6" height="3.6" fill="#000"/>
<rect x="65.30" y="314.18" width="3.6" height="3.6" fill="#000"/>
<rect x="78.06" y="306.26" width="3.6" height="3.6" fill="#000"/>
<rect x="88.48" y="301.45" width="3.6" height="3.6" fill="#000"/>
<rect x="97.29" y="296.67" width="3.6" height="3.6" fill="#000"/>
<rect x="104.93" y="290.51" width="3.6" height="3.6" fill="#000"/>
<rect x="111.66" y="285.72" width="3.6" height="3.6" fill="#000"/>
<rect x="117.69" y="282.31" width="3.6" height="3.6" fill="#000"/>
<rect x="123.13" y="278.32" width="3.6" height="3.6" fill="#000"/>
<rect x="128.11" y="275.32" width="3.6" height="3.6" fill="#000"/>
<rect x="132.69" y="273.01" width="3.6" height="3.6" fill="#000"/>
<rect x="136.92" y="272.45" width="3.6" height="3.6" fill="#000"/>
<rect x="140.87" y="269.17" width="3.6" height="3.6" fill="#000"/>
<rect x="144.56" y="266.66" width="3.6" height="3.6" fill="#000"/>
<rect x="148.02" y="264.30" width="3.6" height="3.6" fill="#000"/>
<rect x="151.29" y="261.49" width="3.6" height="3.6" fill="#000"/>
<rect x="154.38" y="258.73" width="3.6" height="3.6" fill="#000"/>
<rect x="157.31" y="255.87" width="3.6" height="3.6" fill="#000"/>
<rect x="160.10" y="253.09" width="3.6" height="3.6" fill="#000"/>
<rect x="162.76" y="250.61" width="3.6" height="3.6" fill="#000"/>
<rect x="165.30" y="248.45" width="3.6" height="3.6" fill="#000"/>
<rect x="167.74" y="246.37" width="3.6" height="3.6" fill="#000"/>
<rect x="170.07" y="244.38" width="3.6" height="3.6" fill="#000"/>
<rect x="172.31" y="242.47" width="3.6" height="3.6" fill="#000"/>
<rect x="174.47" y="240.77" width="3.6" height="3.6" fill="#000"/>
<rect x="176.55" y="239.23" width="3.6" height="3.6" fill="#000"/>
<rect x="178.56" y="237.74" width="3.6" height="3.6" fill="#000"/>
<rect x="180.50" y="236.71" width="3.6" height="3.6" fill="#000"/>
<rect x="182.37" y="236.27" width="3.6" height="3.6" fill="#000"/>
<rect x="184.19" y="235.85" width="3.6" height="3.6" fill="#000"/>
<rect x="185.94" y="235.44" width="3.6" height="3.6" fill="#000"/>
<rect x="187.65" y="234.78" width="3.6" height="3.6" fill="#000"/>
<rect x="189.31" y="234.11" width="3.6" height="3.6" fill="#000"/>
<rect x="190.92" y="233.47" width="3.6" height="3.6" fill="#000"/>
<rect x="192.49" y="232.83" width="3.6" height="3.6" fill="#000"/>
<rect x="194.01" y="232.52" width="3.6" height="3.6" fill="#000"/>
<rect x="195.50" y="232.24" width="3.6" height="3.6" fill="#000"/>
<rect x="196.94" y="231.96" width="3.6" height="3.6" fill="#000"/>
<rect x="198.35" y="231.69" width="3.6" height="3.6" fill="#000"/>
<rect x="199.73" y="231.56" width="3.6" height="3.6" fill="#000"/>
<rect x="201.08" y="231.56" width="3.6" height="3.6" fill="#000"/>
<rect x="202.39" y="231.56" width="3.6" height="3.6" fill="#000"/>
<rect x="203.68" y="231.56" width="3.6" height="3.6" fill="#000"/>
<rect x="204.93" y="231.69" width="3.6" height="3.6" fill="#000"/>
<rect x="206.16" y="231.89" width="3.6" height="3.6" fill="#000"/>
<rect x="207.37" y="232.09" width="3.6" height="3.6" fill="#000"/>
<circle cx="50.65" cy="327.60" r="1.8" fill="#f00"/>
<circle cx="67.10" cy="314.48" r="1.8" fill="#f00"/>
<circle cx="79.86" cy="305.46" r="1.8" fill="#f00"/>
<circle cx="90.28" cy="295.72" r="1.8" fill="#f00"/>
<circle cx="99.09" cy="288.07" r="1.8" fill="#f00"/>
<circle cx="106.73" cy="281.92" r="1.8" fill="#f00"/>
<circle cx="113.46" cy="276.85" r="1.8" fill="#f00"/>
<circle cx="119.49" cy="273.85" r="1.8" fill="#f00"/>
<circle cx="124.93" cy="271.23" r="1.8" fill="#f00"/>
<circle cx="129.91" cy="269.33" r="1.8" fill="#f00"/>
<circle cx="134.49" cy="267.70" r="1.8" fill="#f00"/>
<circle cx="138.72" cy="265.77" r="1.8" fill="#f00"/>
<circle cx="142.67" cy="263.86" r="1.8" fill="#f00"/>
<circle cx="146.36" cy="262.01" r="1.8" fill="#f00"/>
<circle cx="149.82" cy="260.27" r="1.8" fill="#f00"/>
<circle cx="153.09" cy="258.41" r="1.8" fill="#f00"/>
<circle cx="156.18" cy="256.61" r="1.8" fill="#f00"/>
<circle cx="159.11" cy="254.72" r="1.8" fill="#f00"/>
<circle cx="161.90" cy="252.61" r="1.8" fill="#f00"/>
<circle cx="164.56" cy="250.59" r="1.8" fill="#f00"/>
<circle cx="167.10" cy="248.61" r="1.8" fill="#f00"/>
<circle cx="169.54" cy="246.65" r="1.8" fill="#f00"/>
<circle cx="171.87" cy="244.77" r="1.8" fill="#f00"/>
<circle cx="174.11" cy="243.18" r="1.8" fill="#f00"/>
<circle cx="176.27" cy="241.70" r="1.8" fill="#f00"/>
<circle cx="178.35" cy="240.27" r="1.8" fill="#f00"/>
<circle cx="180.36" cy="239.37" r="1.8" fill="#f00"/>
<circle cx="182.30" cy="238.64" r="1.8" fill="#f00"/>
<circle cx="184.17" cy="237.89" r="1.8" fill="#f00"/>
<circle cx="185.99" cy="236.63" r="1.8" fill="#f00"/>
<circle cx="187.74" cy="235.41" r="1.8" fill="#f00"/>
<circle cx="189.45" cy="233.11" r="1.8" fill="#f00"/>
<circle cx="191.11" cy="230.73" r="1.8" fill="#f00"/>
<circle cx="192.72" cy="229.25" r="1.8" fill="#f00"/>
<circle cx="194.29" cy="228.36" r="1.8" fill="#f00"/>
<circle cx="195.81" cy="227.49" r="1.8" fill="#f00"/>
<circle cx="197.30" cy="226.66" r="1.8" fill="#f00"/>
<circle cx="198.74" cy="225.92" r="1.8" fill="#f00"/>
<circle cx="200.15" cy="225.21" r="1.8" fill="#f00"/>
<circle cx="201.53" cy="224.51" r="1.8" fill="#f00"/>
<circle cx="202.88" cy="224.09" r="1.8" fill="#f00"/>
<circle cx="204.19" cy="223.90" r="1.8" fill="#f00"/>
<circle cx="205.48" cy="223.72" r="1.8" fill="#f00"/>
<circle cx="206.73" cy="224.22" r="1.8" fill="#f00"/>
<circle cx="207.96" cy="225.14" r="1.8" fill="#f00"/>
<circle cx="209.17" cy="226.04" r="1.8" fill="#f00"/>
<line x1="50.64" y1="327.48" x2="209.00" y2="227.10" stroke="#111" stroke-width="1"/>
<line x1="50.64" y1="321.30" x2="209.00" y2="222.55" stroke="#e81818" stroke-width="1"/>
<text x="64.90" y="242.10" font-size="13.3">y=0.61x-0.16</text>
<text x="64.90" y="271.60" font-size="13.3">R<tspan font-size="7.6" dy="-7">2</tspan><tspan dy="7">=0.98</tspan></text>
<text x="146.70" y="305.30" font-size="13.3" fill="#e3161e">y=0.60x-0.11</text>
<text x="146.70" y="334.60" font-size="13.3" fill="#e3161e">R<tspan font-size="7.6" dy="-7">2</tspan><tspan dy="7">=0.99</tspan></text>
<path d="M277.70 208.60V345.40H461.60" fill="none" stroke="#2a2a2a" stroke-width="1"/>
<line x1="274.50" y1="345.40" x2="277.70" y2="345.40" stroke="#2a2a2a" stroke-width="1"/>
<text x="273.20" y="349.80" text-anchor="end" font-size="14">0.0</text>
<line x1="275.70" y1="331.72" x2="277.70" y2="331.72" stroke="#2a2a2a" stroke-width="1"/>
<line x1="274.50" y1="318.04" x2="277.70" y2="318.04" stroke="#2a2a2a" stroke-width="1"/>
<text x="273.20" y="322.44" text-anchor="end" font-size="14">0.2</text>
<line x1="275.70" y1="304.36" x2="277.70" y2="304.36" stroke="#2a2a2a" stroke-width="1"/>
<line x1="274.50" y1="290.68" x2="277.70" y2="290.68" stroke="#2a2a2a" stroke-width="1"/>
<text x="273.20" y="295.08" text-anchor="end" font-size="14">0.4</text>
<line x1="275.70" y1="277.00" x2="277.70" y2="277.00" stroke="#2a2a2a" stroke-width="1"/>
<line x1="274.50" y1="263.32" x2="277.70" y2="263.32" stroke="#2a2a2a" stroke-width="1"/>
<text x="273.20" y="267.72" text-anchor="end" font-size="14">0.6</text>
<line x1="275.70" y1="249.64" x2="277.70" y2="249.64" stroke="#2a2a2a" stroke-width="1"/>
<line x1="274.50" y1="235.96" x2="277.70" y2="235.96" stroke="#2a2a2a" stroke-width="1"/>
<text x="273.20" y="240.36" text-anchor="end" font-size="14">0.8</text>
<line x1="275.70" y1="222.28" x2="277.70" y2="222.28" stroke="#2a2a2a" stroke-width="1"/>
<line x1="274.50" y1="208.60" x2="277.70" y2="208.60" stroke="#2a2a2a" stroke-width="1"/>
<text x="273.20" y="213.00" text-anchor="end" font-size="14">1.0</text>
<line x1="277.70" y1="345.40" x2="277.70" y2="348.60" stroke="#2a2a2a" stroke-width="1"/>
<text x="277.70" y="360.40" text-anchor="middle" font-size="14">0.4</text>
<line x1="290.84" y1="345.40" x2="290.84" y2="347.40" stroke="#2a2a2a" stroke-width="1"/>
<line x1="303.97" y1="345.40" x2="303.97" y2="348.60" stroke="#2a2a2a" stroke-width="1"/>
<text x="303.97" y="360.40" text-anchor="middle" font-size="14">0.6</text>
<line x1="317.11" y1="345.40" x2="317.11" y2="347.40" stroke="#2a2a2a" stroke-width="1"/>
<line x1="330.24" y1="345.40" x2="330.24" y2="348.60" stroke="#2a2a2a" stroke-width="1"/>
<text x="330.24" y="360.40" text-anchor="middle" font-size="14">0.8</text>
<line x1="343.38" y1="345.40" x2="343.38" y2="347.40" stroke="#2a2a2a" stroke-width="1"/>
<line x1="356.51" y1="345.40" x2="356.51" y2="348.60" stroke="#2a2a2a" stroke-width="1"/>
<text x="356.51" y="360.40" text-anchor="middle" font-size="14">1.0</text>
<line x1="369.65" y1="345.40" x2="369.65" y2="347.40" stroke="#2a2a2a" stroke-width="1"/>
<line x1="382.79" y1="345.40" x2="382.79" y2="348.60" stroke="#2a2a2a" stroke-width="1"/>
<text x="382.79" y="360.40" text-anchor="middle" font-size="14">1.2</text>
<line x1="395.92" y1="345.40" x2="395.92" y2="347.40" stroke="#2a2a2a" stroke-width="1"/>
<line x1="409.06" y1="345.40" x2="409.06" y2="348.60" stroke="#2a2a2a" stroke-width="1"/>
<text x="409.06" y="360.40" text-anchor="middle" font-size="14">1.4</text>
<line x1="422.19" y1="345.40" x2="422.19" y2="347.40" stroke="#2a2a2a" stroke-width="1"/>
<line x1="435.33" y1="345.40" x2="435.33" y2="348.60" stroke="#2a2a2a" stroke-width="1"/>
<text x="435.33" y="360.40" text-anchor="middle" font-size="14">1.6</text>
<line x1="448.46" y1="345.40" x2="448.46" y2="347.40" stroke="#2a2a2a" stroke-width="1"/>
<line x1="461.60" y1="345.40" x2="461.60" y2="348.60" stroke="#2a2a2a" stroke-width="1"/>
<text x="461.60" y="360.40" text-anchor="middle" font-size="14">1.8</text>
<text x="369.65" y="382.70" text-anchor="middle" font-size="14">Log(time)</text>
<text transform="translate(250.40,277.40) rotate(-90)" text-anchor="middle" font-size="14.5">Log(R/S)</text>
<text x="375.90" y="209.20" text-anchor="middle" font-size="14.2" font-weight="bold">(e) Winter</text>
<rect x="286.03" y="325.81" width="3.6" height="3.6" fill="#000"/>
<rect x="302.44" y="315.69" width="3.6" height="3.6" fill="#000"/>
<rect x="315.17" y="307.08" width="3.6" height="3.6" fill="#000"/>
<rect x="325.57" y="298.44" width="3.6" height="3.6" fill="#000"/>
<rect x="334.37" y="291.06" width="3.6" height="3.6" fill="#000"/>
<rect x="341.98" y="284.08" width="3.6" height="3.6" fill="#000"/>
<rect x="348.70" y="277.91" width="3.6" height="3.6" fill="#000"/>
<rect x="354.71" y="273.70" width="3.6" height="3.6" fill="#000"/>
<rect x="360.15" y="267.76" width="3.6" height="3.6" fill="#000"/>
<rect x="365.12" y="262.72" width="3.6" height="3.6" fill="#000"/>
<rect x="369.68" y="257.70" width="3.6" height="3.6" fill="#000"/>
<rect x="373.91" y="253.02" width="3.6" height="3.6" fill="#000"/>
<rect x="377.85" y="249.61" width="3.6" height="3.6" fill="#000"/>
<rect x="381.53" y="246.04" width="3.6" height="3.6" fill="#000"/>
<rect x="384.99" y="244.65" width="3.6" height="3.6" fill="#000"/>
<rect x="388.25" y="243.31" width="3.6" height="3.6" fill="#000"/>
<rect x="391.33" y="241.68" width="3.6" height="3.6" fill="#000"/>
<rect x="394.26" y="239.84" width="3.6" height="3.6" fill="#000"/>
<rect x="397.04" y="237.99" width="3.6" height="3.6" fill="#000"/>
<rect x="399.69" y="235.80" width="3.6" height="3.6" fill="#000"/>
<rect x="402.23" y="233.46" width="3.6" height="3.6" fill="#000"/>
<rect x="404.66" y="231.16" width="3.6" height="3.6" fill="#000"/>
<rect x="406.99" y="228.95" width="3.6" height="3.6" fill="#000"/>
<rect x="409.22" y="227.09" width="3.6" height="3.6" fill="#000"/>
<rect x="411.38" y="225.35" width="3.6" height="3.6" fill="#000"/>
<rect x="413.45" y="223.88" width="3.6" height="3.6" fill="#000"/>
<rect x="415.45" y="222.55" width="3.6" height="3.6" fill="#000"/>
<rect x="417.39" y="221.38" width="3.6" height="3.6" fill="#000"/>
<rect x="419.26" y="220.45" width="3.6" height="3.6" fill="#000"/>
<rect x="421.07" y="219.55" width="3.6" height="3.6" fill="#000"/>
<rect x="422.82" y="218.78" width="3.6" height="3.6" fill="#000"/>
<rect x="424.53" y="218.49" width="3.6" height="3.6" fill="#000"/>
<rect x="426.18" y="218.20" width="3.6" height="3.6" fill="#000"/>
<rect x="427.79" y="217.82" width="3.6" height="3.6" fill="#000"/>
<rect x="429.35" y="217.26" width="3.6" height="3.6" fill="#000"/>
<rect x="430.87" y="216.71" width="3.6" height="3.6" fill="#000"/>
<rect x="432.35" y="216.08" width="3.6" height="3.6" fill="#000"/>
<rect x="433.80" y="215.29" width="3.6" height="3.6" fill="#000"/>
<rect x="435.21" y="214.51" width="3.6" height="3.6" fill="#000"/>
<rect x="436.58" y="213.75" width="3.6" height="3.6" fill="#000"/>
<rect x="437.92" y="212.71" width="3.6" height="3.6" fill="#000"/>
<rect x="439.24" y="211.70" width="3.6" height="3.6" fill="#000"/>
<rect x="440.52" y="210.71" width="3.6" height="3.6" fill="#000"/>
<rect x="441.77" y="209.86" width="3.6" height="3.6" fill="#000"/>
<rect x="443.00" y="209.17" width="3.6" height="3.6" fill="#000"/>
<rect x="444.20" y="208.58" width="3.6" height="3.6" fill="#000"/>
<circle cx="287.83" cy="327.60" r="1.8" fill="#f00"/>
<circle cx="304.24" cy="315.30" r="1.8" fill="#f00"/>
<circle cx="316.97" cy="306.69" r="1.8" fill="#f00"/>
<circle cx="327.37" cy="299.83" r="1.8" fill="#f00"/>
<circle cx="336.17" cy="295.05" r="1.8" fill="#f00"/>
<circle cx="343.78" cy="290.67" r="1.8" fill="#f00"/>
<circle cx="350.50" cy="286.42" r="1.8" fill="#f00"/>
<circle cx="356.51" cy="282.34" r="1.8" fill="#f00"/>
<circle cx="361.95" cy="277.65" r="1.8" fill="#f00"/>
<circle cx="366.92" cy="273.97" r="1.8" fill="#f00"/>
<circle cx="371.48" cy="269.35" r="1.8" fill="#f00"/>
<circle cx="375.71" cy="265.64" r="1.8" fill="#f00"/>
<circle cx="379.65" cy="263.17" r="1.8" fill="#f00"/>
<circle cx="383.33" cy="260.53" r="1.8" fill="#f00"/>
<circle cx="386.79" cy="258.82" r="1.8" fill="#f00"/>
<circle cx="390.05" cy="257.22" r="1.8" fill="#f00"/>
<circle cx="393.13" cy="255.87" r="1.8" fill="#f00"/>
<circle cx="396.06" cy="254.92" r="1.8" fill="#f00"/>
<circle cx="398.84" cy="253.96" r="1.8" fill="#f00"/>
<circle cx="401.49" cy="253.03" r="1.8" fill="#f00"/>
<circle cx="404.03" cy="251.75" r="1.8" fill="#f00"/>
<circle cx="406.46" cy="250.45" r="1.8" fill="#f00"/>
<circle cx="408.79" cy="248.90" r="1.8" fill="#f00"/>
<circle cx="411.02" cy="247.47" r="1.8" fill="#f00"/>
<circle cx="413.18" cy="246.51" r="1.8" fill="#f00"/>
<circle cx="415.25" cy="245.59" r="1.8" fill="#f00"/>
<circle cx="417.25" cy="244.80" r="1.8" fill="#f00"/>
<circle cx="419.19" cy="244.06" r="1.8" fill="#f00"/>
<circle cx="421.06" cy="243.72" r="1.8" fill="#f00"/>
<circle cx="422.87" cy="243.67" r="1.8" fill="#f00"/>
<circle cx="424.62" cy="243.48" r="1.8" fill="#f00"/>
<circle cx="426.33" cy="242.74" r="1.8" fill="#f00"/>
<circle cx="427.98" cy="242.02" r="1.8" fill="#f00"/>
<circle cx="429.59" cy="241.18" r="1.8" fill="#f00"/>
<circle cx="431.15" cy="240.11" r="1.8" fill="#f00"/>
<circle cx="432.67" cy="239.07" r="1.8" fill="#f00"/>
<circle cx="434.15" cy="237.99" r="1.8" fill="#f00"/>
<circle cx="435.60" cy="236.82" r="1.8" fill="#f00"/>
<circle cx="437.01" cy="235.68" r="1.8" fill="#f00"/>
<circle cx="438.38" cy="234.55" r="1.8" fill="#f00"/>
<circle cx="439.72" cy="232.79" r="1.8" fill="#f00"/>
<circle cx="441.04" cy="231.06" r="1.8" fill="#f00"/>
<circle cx="442.32" cy="231.28" r="1.8" fill="#f00"/>
<circle cx="443.57" cy="232.15" r="1.8" fill="#f00"/>
<circle cx="444.80" cy="233.03" r="1.8" fill="#f00"/>
<circle cx="446.00" cy="233.77" r="1.8" fill="#f00"/>
<line x1="287.81" y1="325.78" x2="445.84" y2="207.29" stroke="#111" stroke-width="1"/>
<line x1="287.81" y1="321.17" x2="445.84" y2="229.01" stroke="#e81818" stroke-width="1"/>
<text x="301.70" y="241.50" font-size="13.3">y=0.72x-0.20</text>
<text x="301.70" y="270.90" font-size="13.3">R<tspan font-size="7.6" dy="-7">2</tspan><tspan dy="7">=0.99</tspan></text>
<text x="383.70" y="304.80" font-size="13.3" fill="#e3161e">y=0.56x-0.09</text>
<text x="383.70" y="334.60" font-size="13.3" fill="#e3161e">R<tspan font-size="7.6" dy="-7">2</tspan><tspan dy="7">=0.99</tspan></text>
<rect x="517.5" y="253.5" width="7" height="6.5" fill="#000"/>
<circle cx="521" cy="293.2" r="3.4" fill="#f00"/>
<text x="539" y="261.6" font-size="21.4">QTP</text>
<text x="538.5" y="297.8" font-size="21.4">Surrounding areas</text>
</svg></body></html>
